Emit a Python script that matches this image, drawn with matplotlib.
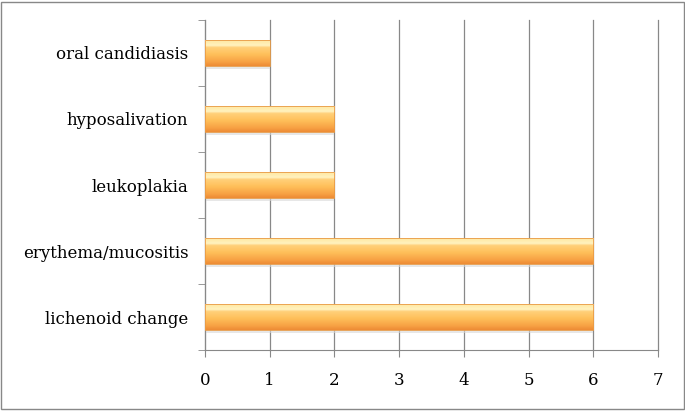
import numpy as np
import matplotlib.pyplot as plt
from matplotlib.colors import LinearSegmentedColormap
from matplotlib.patches import Rectangle

categories = ['lichenoid change', 'erythema/mucositis', 'leukoplakia', 'hyposalivation', 'oral candidiasis']
counts = [6, 6, 2, 2, 1]
x_ticks = [0, 1, 2, 3, 4, 5, 6, 7]

plt.rcParams['font.family'] = ['DejaVu Serif']

fig = plt.figure(figsize=(6.85, 4.11), dpi=100)
ax = fig.add_axes([205 / 685, 61 / 411, 453 / 685, 330 / 411])

# vertical gradient for the bars: light on top, darker orange at the bottom
grad = LinearSegmentedColormap.from_list('bar', [
    (0.0, '#ee8c35'), (0.18, '#f8a446'), (0.45, '#ffc05a'),
    (0.72, '#ffd07a'), (0.8, '#fff2bf'), (1.0, '#ffe8a2')])
g = np.linspace(0, 1, 64).reshape(-1, 1)

h = 0.38
ypos = np.arange(len(categories))
for y, v in zip(ypos, counts):
    # soft shadow under the bar
    ax.add_patch(Rectangle((0, y - h / 2 - 0.05), v, 0.06, color='#d8d8d8', alpha=0.6, lw=0, zorder=2))
    ax.imshow(g, cmap=grad, aspect='auto', origin='lower',
              extent=[0, v, y - h / 2, y + h / 2], zorder=3)
    ax.add_patch(Rectangle((0, y - h / 2), v, h, fill=False, ec='#e89a45', lw=0.6, zorder=4))

ax.set_xlim(0, 7)
ax.set_ylim(-0.5, len(categories) - 0.5)
ax.set_xticks(x_ticks)
ax.set_yticks(ypos)
ax.set_yticklabels(categories, fontsize=12)
ax.set_yticks(np.arange(-0.5, len(categories), 1), minor=True)
ax.tick_params(axis='y', which='major', length=0, pad=18)
ax.tick_params(axis='y', which='minor', length=5, color='#888888')
ax.tick_params(axis='x', length=5, color='#888888', labelsize=12, pad=11)

ax.grid(axis='x', color='#888888', lw=0.9, zorder=1)
ax.set_axisbelow(True)
for line in ax.get_xgridlines():
    line.set_clip_on(False)
for s in ['top', 'right']:
    ax.spines[s].set_visible(False)
for s in ['left', 'bottom']:
    ax.spines[s].set_color('#888888')
for lbl in ax.get_yticklabels():
    lbl.set_x(-0.0)
ax.tick_params(axis='y', which='major', pad=12)

# outer chart border
fig.patches.append(Rectangle((0.002, 0.004), 0.996, 0.992, transform=fig.transFigure,
                             fill=False, ec='#888888', lw=1))

fig.savefig('out.png', dpi=100)
